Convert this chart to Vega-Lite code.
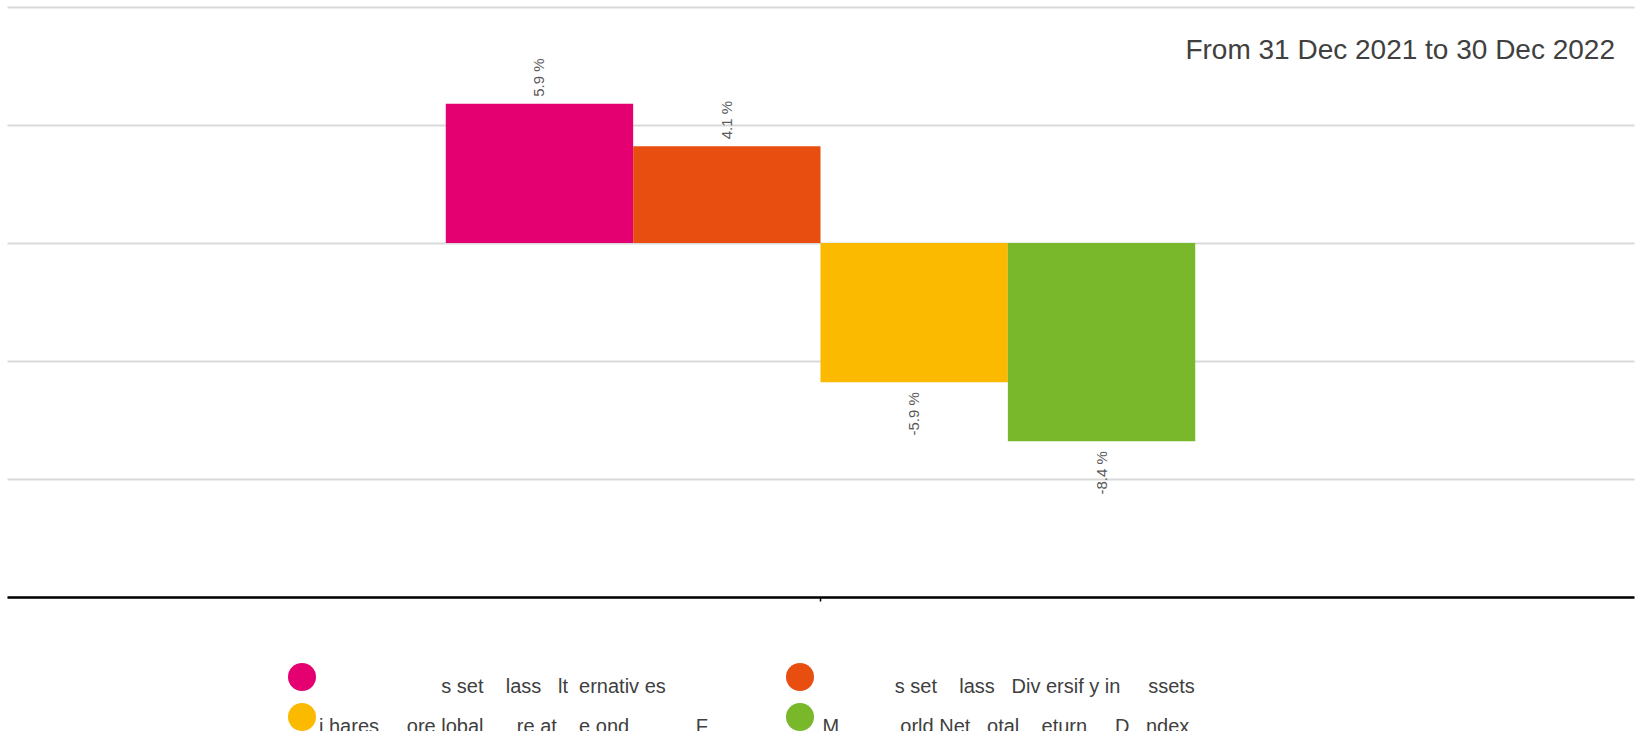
{
  "$schema": "https://vega.github.io/schema/vega-lite/v6.json",
  "width": 1627,
  "height": 590,
  "autosize": {"type": "none"},
  "padding": {"left": 7, "top": 7, "right": 3, "bottom": 134},
  "background": "white",
  "title": {
    "text": "From 31 Dec 2021 to 30 Dec 2022",
    "anchor": "end",
    "frame": "group",
    "orient": "top",
    "offset": 0,
    "baseline": "alphabetic",
    "dy": 80,
    "dx": -19,
    "font": "Liberation Sans",
    "fontSize": 28,
    "fontWeight": "normal",
    "color": "#404040"
  },
  "data": {
    "values": [
      {"period": "2022", "series": "s set lass lt ernativ es", "value": 5.9, "label": "5.9 %"},
      {"period": "2022", "series": "s set lass Div ersif y in ssets", "value": 4.1, "label": "4.1 %"},
      {"period": "2022", "series": "i hares ore lobal re at e ond F", "value": -5.9, "label": "-5.9 %"},
      {"period": "2022", "series": "M orld Net otal eturn D ndex", "value": -8.4, "label": "-8.4 %"}
    ]
  },
  "encoding": {
    "x": {
      "field": "period",
      "type": "nominal",
      "scale": {"paddingInner": 0, "paddingOuter": 0.5855},
      "axis": {
        "labels": false,
        "title": null,
        "grid": false,
        "domainColor": "#000000",
        "domainWidth": 2.5,
        "ticks": true,
        "tickColor": "#000000",
        "tickSize": 4,
        "tickWidth": 1.5,
        "zindex": 1
      }
    },
    "xOffset": {
      "field": "series",
      "type": "nominal",
      "scale": {
        "domain": ["s set lass lt ernativ es", "s set lass Div ersif y in ssets", "i hares ore lobal re at e ond F", "M orld Net otal eturn D ndex"],
        "paddingInner": 0,
        "paddingOuter": 0
      }
    },
    "y": {
      "field": "value",
      "type": "quantitative",
      "scale": {"domain": [-15, 10], "nice": false, "zero": false},
      "axis": {
        "labels": false,
        "title": null,
        "domain": false,
        "ticks": false,
        "grid": true,
        "gridColor": "#d9d9d9",
        "gridWidth": 2,
        "values": [-15, -10, -5, 0, 5, 10],
        "zindex": 0
      }
    }
  },
  "layer": [
    {
      "mark": {"type": "bar"},
      "encoding": {
        "color": {
          "field": "series",
          "type": "nominal",
          "scale": {
            "domain": ["s set lass lt ernativ es", "s set lass Div ersif y in ssets", "i hares ore lobal re at e ond F", "M orld Net otal eturn D ndex"],
            "range": ["#E40071", "#E84E0F", "#FBB900", "#78B82A"]
          },
          "legend": {
            "orient": "none",
            "legendX": 281,
            "legendY": 656,
            "columns": 2,
            "direction": "horizontal",
            "title": null,
            "padding": 0,
            "symbolType": "circle",
            "symbolSize": 784,
            "symbolStrokeWidth": 0,
            "symbolOpacity": 1,
            "labelFont": "Liberation Sans",
            "labelFontSize": 20,
            "labelColor": "#404040",
            "labelBaseline": "top",
            "labelOffset": 3,
            "labelLimit": 2000,
            "columnPadding": 77,
            "rowPadding": 6,
            "labelExpr": "datum.label === 's set lass lt ernativ es' ? '\u200b\u00a0\u00a0\u00a0\u00a0\u00a0\u00a0\u00a0\u00a0\u00a0\u00a0\u00a0\u00a0\u00a0\u00a0\u00a0\u00a0\u00a0\u00a0\u00a0\u00a0\u00a0\u00a0s\u00a0set\u00a0\u00a0\u00a0\u00a0lass\u00a0\u00a0\u00a0lt\u00a0\u00a0ernativ es' : datum.label === 's set lass Div ersif y in ssets' ? '\u200b\u00a0\u00a0\u00a0\u00a0\u00a0\u00a0\u00a0\u00a0\u00a0\u00a0\u00a0\u00a0\u00a0\u00a0s\u00a0set\u00a0\u00a0\u00a0\u00a0lass\u00a0\u00a0\u00a0Div ersif y in\u00a0\u00a0\u00a0\u00a0\u00a0ssets' : datum.label === 'i hares ore lobal re at e ond F' ? 'i hares\u00a0\u00a0\u00a0\u00a0\u00a0ore lobal\u00a0\u00a0\u00a0\u00a0\u00a0\u00a0re at\u00a0\u00a0\u00a0\u00a0e ond\u00a0\u00a0\u00a0\u00a0\u00a0\u00a0\u00a0\u00a0\u00a0\u00a0\u00a0\u00a0F' : '\u200b\u00a0M\u00a0\u00a0\u00a0\u00a0\u00a0\u00a0\u00a0\u00a0\u00a0\u00a0\u00a0orld Net\u00a0\u00a0\u00a0otal\u00a0\u00a0\u00a0\u00a0eturn\u00a0\u00a0\u00a0\u00a0\u00a0D\u00a0\u00a0\u00a0ndex'"
          }
        }
      }
    },
    {
      "transform": [{"filter": "datum.value >= 0"}],
      "mark": {
        "type": "text",
        "angle": 270,
        "align": "left",
        "baseline": "middle",
        "dx": 7,
        "font": "Liberation Sans",
        "fontSize": 15,
        "color": "#595959"
      },
      "encoding": {"text": {"field": "label", "type": "nominal"}}
    },
    {
      "transform": [{"filter": "datum.value < 0"}],
      "mark": {
        "type": "text",
        "angle": 270,
        "align": "right",
        "baseline": "middle",
        "dx": -10,
        "font": "Liberation Sans",
        "fontSize": 15,
        "color": "#595959"
      },
      "encoding": {"text": {"field": "label", "type": "nominal"}}
    }
  ],
  "config": {"view": {"stroke": null}}
}
